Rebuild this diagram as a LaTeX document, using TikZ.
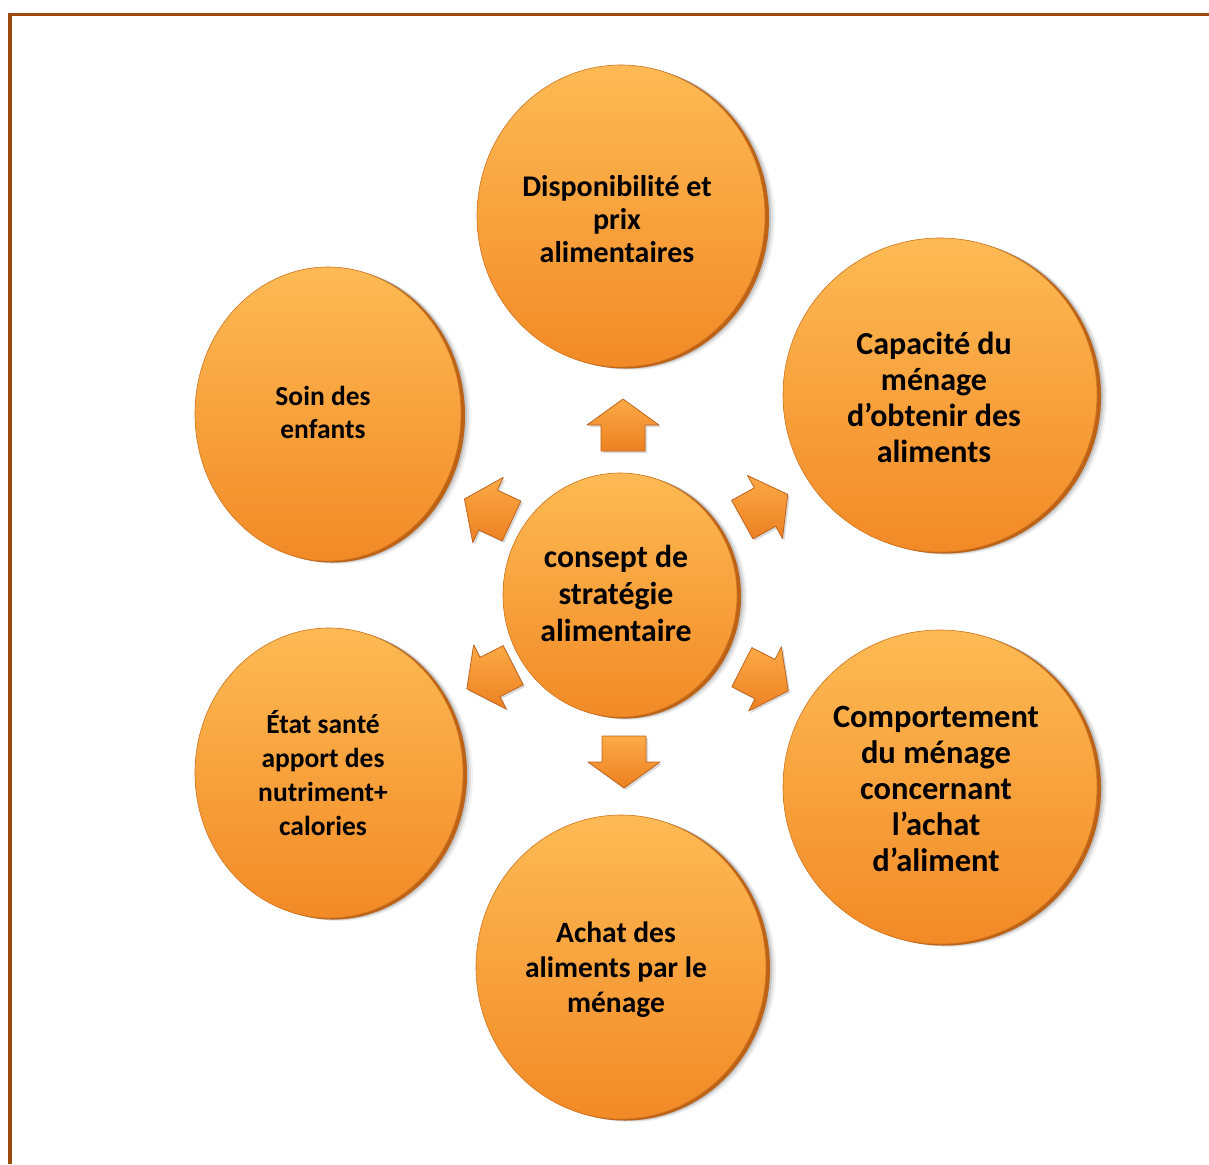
\documentclass[tikz,border=0pt]{standalone}
\usepackage{fontspec}
\setmainfont{Carlito}
\usetikzlibrary{shapes.geometric}
\definecolor{framebrown}{RGB}{156,74,12}
\definecolor{orbtop}{RGB}{253,186,84}
\definecolor{orbbot}{RGB}{242,138,38}
\definecolor{orbside}{RGB}{190,98,22}
\definecolor{arrtop}{RGB}{252,170,70}
\definecolor{arrbot}{RGB}{236,128,34}
\definecolor{arredge}{RGB}{190,100,30}
\tikzset{
  orbnode/.style={ellipse, inner sep=0pt, top color=orbtop, bottom color=orbbot,
    draw=orbbot!85!black, line width=0.6pt},
  orbtext/.style={align=center, text=black, inner sep=0pt},
  arrowshape/.style={top color=arrtop, bottom color=arrbot, draw=arredge, line width=0.8pt, line join=round},
  framerule/.style={draw=framebrown, line width=3.5pt}
}
% #1 name, #2 x, #3 y, #4 rx, #5 ry, #6 font size, #7 baselineskip, #8 text, #9 text shift
\newcommand{\orb}[9]{%
  \foreach \k/\o in {10/0.05,8/0.08,6/0.12,4/0.18,2/0.25}{%
    \fill[black,opacity=\o] (#2+\k,#3+0.3*\k) ellipse[x radius=#4, y radius=#5];}
  \fill[orbside] (#2+4,#3+1.5) ellipse[x radius=#4, y radius=#5];
  \node[orbnode, minimum width={2*#4pt}, minimum height={2*#5pt}] (#1) at (#2,#3) {};
  \node[orbtext, font=\fontsize{#6}{#7}\selectfont\bfseries, #9] (#1-t) at (#1.center) {#8};
}
% #1 name, #2 x, #3 y, #4 angle
\newcommand{\blockarr}[4]{%
  \coordinate (#1) at (#2,#3);
  \fill[black,opacity=0.15,shift={(#1)},xshift=2pt,yshift=-2pt,rotate=#4]
     (26,0) -- (0,36) -- (0,22) -- (-26,22) -- (-26,-22) -- (0,-22) -- (0,-36) -- cycle;
  \path[arrowshape,shift={(#1)},rotate=#4]
     (26,0) -- (0,36) -- (0,22) -- (-26,22) -- (-26,-22) -- (0,-22) -- (0,-36) -- cycle;
}
\begin{document}
\begin{tikzpicture}[x=1pt,y=-1pt]
\useasboundingbox (0,0) rectangle (1209,1164);
\fill[white] (0,0) rectangle (1209,1164);
% frame
\draw[framerule] (8,14.5) -- (1209,14.5);
\draw[framerule] (10,13) -- (10,1164);

% arrows
\blockarr{aup}{623}{425}{90}
\blockarr{adown}{624}{762}{-90}
\blockarr{aur}{765}{507}{29}
\blockarr{alr}{765}{679}{-27}
\blockarr{aul}{488}{510}{155}
\blockarr{all}{490}{677}{-153}

% circles
\orb{top}{621}{216}{144}{151}{30}{33}{Disponibilité et\\prix\\alimentaires}{xshift=-4pt,yshift=-3pt}
\orb{ur}{940}{395}{157}{157}{32}{36}{Capacité du\\ménage\\d’obtenir des\\aliments}{xshift=-6pt,yshift=-2pt}
\orb{ul}{328}{414}{133}{147}{27.5}{33}{Soin des\\enfants}{xshift=-5pt,yshift=2pt}
\orb{ctr}{620}{595}{117}{122}{31.8}{37}{consept de\\stratégie\\alimentaire}{xshift=-4pt,yshift=2pt}
\orb{ll}{329}{773}{134}{145}{27.5}{34}{État santé\\apport des\\nutriment+\\calories}{xshift=-6pt}
\orb{lr}{940}{787}{157}{157}{32.5}{36}{Comportement\\du ménage\\concernant\\l’achat\\d’aliment}{xshift=-4pt,yshift=-2pt}
\orb{bot}{621}{967}{145}{152}{29.5}{35}{Achat des\\aliments par le\\ménage}{xshift=-5pt,yshift=-3pt}
\end{tikzpicture}
\end{document}
